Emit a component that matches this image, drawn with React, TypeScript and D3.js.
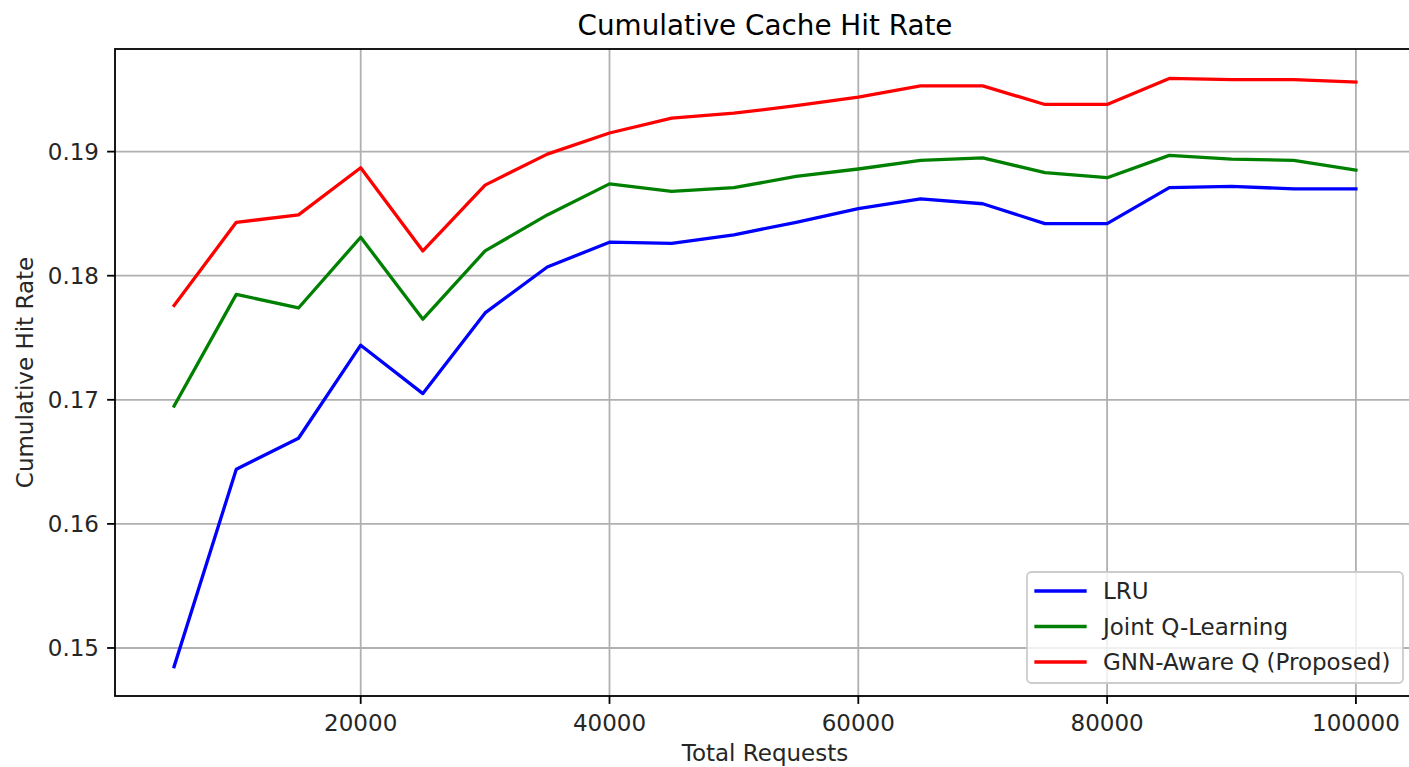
import React from 'react';
import * as d3 from 'd3';

// Total requests (x) and cumulative hit rate per policy
const requests = [
  5000, 10000, 15000, 20000, 25000, 30000, 35000, 40000, 45000, 50000,
  55000, 60000, 65000, 70000, 75000, 80000, 85000, 90000, 95000, 100000,
];
const lru = [
  0.1485, 0.1644, 0.1669, 0.1744, 0.1705, 0.177, 0.1807, 0.1827, 0.1826, 0.1833,
  0.1843, 0.1854, 0.1862, 0.1858, 0.1842, 0.1842, 0.1871, 0.1872, 0.187, 0.187,
];
const jointQ = [
  0.1695, 0.1785, 0.1774, 0.1831, 0.1765, 0.182, 0.1849, 0.1874, 0.1868, 0.1871,
  0.188, 0.1886, 0.1893, 0.1895, 0.1883, 0.1879, 0.1897, 0.1894, 0.1893, 0.1885,
];
const gnnQ = [
  0.1776, 0.1843, 0.1849, 0.1887, 0.182, 0.1873, 0.1898, 0.1915, 0.1927, 0.1931,
  0.1937, 0.1944, 0.1953, 0.1953, 0.1938, 0.1938, 0.1959, 0.1958, 0.1958, 0.1956,
];

const xTicks = [20000, 40000, 60000, 80000, 100000];
const yTicks = [0.15, 0.16, 0.17, 0.18, 0.19];

const series = [
  { name: 'LRU', color: '#0000ff', values: lru },
  { name: 'Joint Q-Learning', color: '#008000', values: jointQ },
  { name: 'GNN-Aware Q (Proposed)', color: '#ff0000', values: gnnQ },
];

const WIDTH = 1409;
const HEIGHT = 767;
const FONT = 'DejaVu Sans, sans-serif';
const FS = 23;

export default function App() {
  const margin = { top: 49, left: 115, right: 1415, bottom: 696 };

  // matplotlib-style 5% padding around the data
  const [x0, x1] = d3.extent(requests) as [number, number];
  const xPad = (x1 - x0) * 0.05;
  const allY = series.flatMap((s) => s.values);
  const [y0, y1] = d3.extent(allY) as [number, number];
  const yPad = (y1 - y0) * 0.05;

  const xScale = d3.scaleLinear().domain([x0 - xPad, x1 + xPad]).range([margin.left, margin.right]);
  const yScale = d3.scaleLinear().domain([y0 - yPad, y1 + yPad]).range([margin.bottom, margin.top]);

  const line = d3
    .line<number>()
    .x((_, i) => xScale(requests[i]))
    .y((d) => yScale(d));

  const tickLen = 7.9;
  const legend = { x: 1027, y: 572, w: 376, h: 111, row: 35.5 };

  return (
    <svg
      width={WIDTH}
      height={HEIGHT}
      style={{ position: 'absolute', left: 0, top: 0, background: '#fff' }}
      fontFamily={FONT}
    >
      <rect width={WIDTH} height={HEIGHT} fill="#fff" />

      {/* grid */}
      <g stroke="#b0b0b0" strokeWidth={1.8}>
        {xTicks.map((t) => (
          <line key={'gx' + t} x1={xScale(t)} x2={xScale(t)} y1={margin.top} y2={margin.bottom} />
        ))}
        {yTicks.map((t) => (
          <line key={'gy' + t} x1={margin.left} x2={margin.right} y1={yScale(t)} y2={yScale(t)} />
        ))}
      </g>

      {/* series */}
      {series.map((s) => (
        <path
          key={s.name}
          d={line(s.values) || ''}
          fill="none"
          stroke={s.color}
          strokeWidth={3.3}
          strokeLinejoin="round"
          strokeLinecap="square"
        />
      ))}

      {/* spines */}
      <rect
        x={margin.left}
        y={margin.top}
        width={margin.right - margin.left}
        height={margin.bottom - margin.top}
        fill="none"
        stroke="#000"
        strokeWidth={1.8}
      />

      {/* x axis ticks */}
      {xTicks.map((t) => (
        <g key={'xt' + t}>
          <line x1={xScale(t)} x2={xScale(t)} y1={margin.bottom} y2={margin.bottom + tickLen} stroke="#000" strokeWidth={1.8} />
          <text x={xScale(t)} y={731} textAnchor="middle" fontSize={FS} fill="#262626">
            {t}
          </text>
        </g>
      ))}

      {/* y axis ticks */}
      {yTicks.map((t) => (
        <g key={'yt' + t}>
          <line x1={margin.left - tickLen} x2={margin.left} y1={yScale(t)} y2={yScale(t)} stroke="#000" strokeWidth={1.8} />
          <text x={99} y={yScale(t) + 8.3} textAnchor="end" fontSize={FS} fill="#262626">
            {t.toFixed(2)}
          </text>
        </g>
      ))}

      {/* labels */}
      <text x={(margin.left + margin.right) / 2} y={35} textAnchor="middle" fontSize={27.8} fill="#000">
        Cumulative Cache Hit Rate
      </text>
      <text x={(margin.left + margin.right) / 2} y={761} textAnchor="middle" fontSize={FS} fill="#262626">
        Total Requests
      </text>
      <text
        transform={`translate(33,${(margin.top + margin.bottom) / 2}) rotate(-90)`}
        textAnchor="middle"
        fontSize={FS}
        fill="#262626"
      >
        Cumulative Hit Rate
      </text>

      {/* legend */}
      <g>
        <rect
          x={legend.x}
          y={legend.y}
          width={legend.w}
          height={legend.h}
          rx={4.5}
          fill="#fff"
          fillOpacity={0.8}
          stroke="#cccccc"
          strokeWidth={1.8}
        />
        {series.map((s, i) => {
          const cy = legend.y + 19 + i * legend.row;
          return (
            <g key={'lg' + s.name}>
              <line x1={1036} x2={1085} y1={cy} y2={cy} stroke={s.color} strokeWidth={3.3} strokeLinecap="square" />
              <text x={1103} y={cy + 8.3} fontSize={FS} fill="#262626">
                {s.name}
              </text>
            </g>
          );
        })}
      </g>
    </svg>
  );
}
